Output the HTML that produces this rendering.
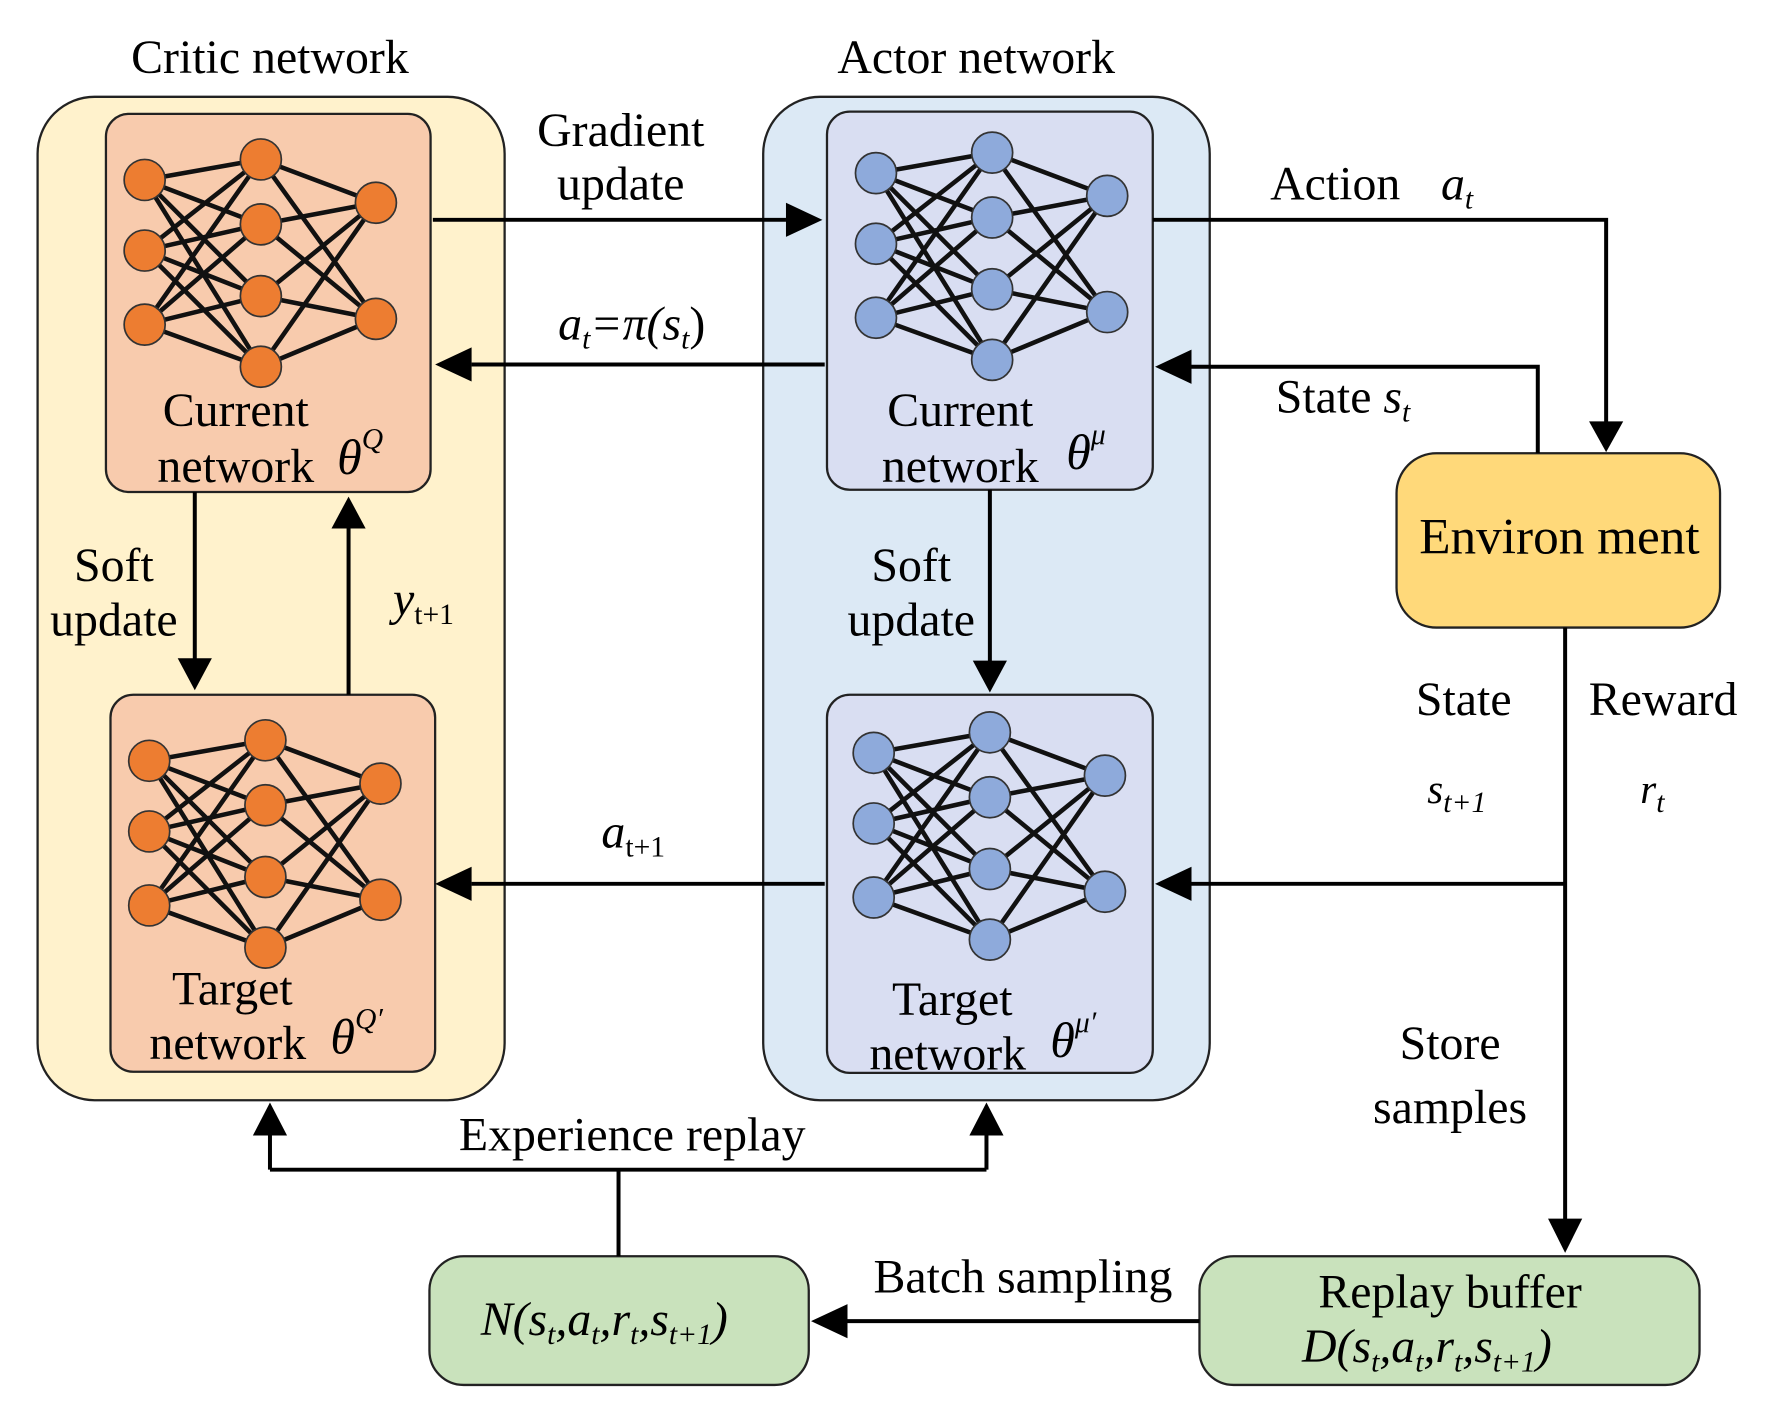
<!DOCTYPE html>
<html><head><meta charset="utf-8"><style>html,body{margin:0;padding:0;background:#fff}svg{display:block}</style></head>
<body>
<svg width="1777" height="1410" viewBox="0 0 1560 1238" preserveAspectRatio="none" xmlns="http://www.w3.org/2000/svg" font-family="Liberation Serif, serif" font-size="42" fill="#000">
<defs>
<g id="net">
<path d="M0 18L102 0M0 18L102 57M0 18L102 120M0 18L102 182M0 80L102 0M0 80L102 57M0 80L102 120M0 80L102 182M0 145L102 0M0 145L102 57M0 145L102 120M0 145L102 182M102 0L203 38M102 0L203 140M102 57L203 38M102 57L203 140M102 120L203 38M102 120L203 140M102 182L203 38M102 182L203 140" stroke="#111" stroke-width="4" fill="none"/>
<g fill="currentColor" stroke="#333" stroke-width="1.5">
<circle cx="0" cy="18" r="18"/><circle cx="0" cy="80" r="18"/><circle cx="0" cy="145" r="18"/>
<circle cx="102" cy="0" r="18"/><circle cx="102" cy="57" r="18"/><circle cx="102" cy="120" r="18"/><circle cx="102" cy="182" r="18"/>
<circle cx="203" cy="38" r="18"/><circle cx="203" cy="140" r="18"/>
</g>
</g>
</defs>

<rect x="33" y="85" width="410" height="881" rx="50" fill="#fff2cc" stroke="#222" stroke-width="2"/>
<rect x="670" y="85" width="392" height="881" rx="50" fill="#dce9f5" stroke="#222" stroke-width="2"/>
<rect x="93" y="100" width="285" height="332" rx="20" fill="#f8cbad" stroke="#222" stroke-width="2"/>
<rect x="97" y="610" width="285" height="331" rx="20" fill="#f8cbad" stroke="#222" stroke-width="2"/>
<rect x="726" y="98" width="286" height="332" rx="20" fill="#d9def2" stroke="#222" stroke-width="2"/>
<rect x="726" y="610" width="286" height="332" rx="20" fill="#d9def2" stroke="#222" stroke-width="2"/>
<rect x="1226" y="398" width="284" height="153" rx="35" fill="#ffd97a" stroke="#222" stroke-width="2"/>
<rect x="377" y="1103" width="333" height="113" rx="30" fill="#c9e2bc" stroke="#222" stroke-width="2"/>
<rect x="1053" y="1103" width="439" height="113" rx="30" fill="#c9e2bc" stroke="#222" stroke-width="2"/>

<use href="#net" x="127" y="140" color="#ed7d31"/>
<use href="#net" x="131" y="650" color="#ed7d31"/>
<use href="#net" x="769" y="134" color="#8eaadb"/>
<use href="#net" x="767" y="643" color="#8eaadb"/>

<g stroke="#000" stroke-width="3.5" fill="none">
<path d="M380 193H690"/><path d="M724 320H414"/>
<path d="M1012 193H1410V372"/>
<path d="M1350 398V322H1045"/>
<path d="M171 432V580"/><path d="M306 610V462"/>
<path d="M869 430V582"/>
<path d="M724 776H414"/>
<path d="M1374 551V1072"/><path d="M1374 776H1045"/>
<path d="M543 1103V1027M237 1027H866M237 1027V995M866 1027V995"/>
<path d="M1053 1160H744"/>
</g>
<g fill="#000">
<path d="M722 193L690 178V208z"/>
<path d="M382 320L414 305V335z"/>
<path d="M1410 397L1395 370H1425z"/>
<path d="M1014 322L1046 307V337z"/>
<path d="M171 606L156 578H186z"/>
<path d="M306 436L291 464H321z"/>
<path d="M869 608L854 580H884z"/>
<path d="M382 776L414 761V791z"/>
<path d="M1014 776L1046 761V791z"/>
<path d="M1374 1100L1359 1070H1389z"/>
<path d="M237 968L222 997H252z"/>
<path d="M866 968L851 997H881z"/>
<path d="M712 1160L744 1145V1175z"/>
</g>

<g text-anchor="middle">
<text x="237" y="64">Critic network</text>
<text x="857" y="64">Actor network</text>
<text x="545" y="128">Gradient</text>
<text x="545" y="175">update</text>
<text x="207" y="374">Current</text>
<text x="207" y="423">network</text>
<text x="204" y="882">Target</text>
<text x="200" y="930">network</text>
<text x="843" y="374">Current</text>
<text x="843" y="423">network</text>
<text x="836" y="891">Target</text>
<text x="832" y="939">network</text>
<text x="100" y="510">Soft</text>
<text x="100" y="558">update</text>
<text x="800" y="510">Soft</text>
<text x="800" y="558">update</text>
<text x="1369" y="486" font-size="45">Environ ment</text>
<text x="1285" y="628">State</text>
<text x="1460" y="628">Reward</text>
<text x="1273" y="930">Store</text>
<text x="1273" y="986">samples</text>
<text x="555" y="1010">Experience replay</text>
<text x="898" y="1135">Batch sampling</text>
<text x="1273" y="1148">Replay buffer</text>
</g>
<text x="1115" y="175">Action</text>
<text x="1265" y="175" font-style="italic">a<tspan font-size="26" dy="8">t</tspan></text>
<text x="1120" y="362">State <tspan font-style="italic">s<tspan font-size="26" dy="8">t</tspan></tspan></text>
<text x="490" y="298" font-style="italic">a<tspan font-size="26" dy="8">t</tspan><tspan dy="-8">=π(s</tspan><tspan font-size="26" dy="8">t</tspan><tspan dy="-8" font-style="normal">)</tspan></text>
<text x="345" y="540" font-style="italic">y<tspan font-size="26" dy="8" font-style="normal">t+1</tspan></text>
<text x="528" y="744" font-style="italic">a<tspan font-size="26" dy="8" font-style="normal">t+1</tspan></text>
<text x="1253" y="705" font-style="italic" font-size="36">s<tspan font-size="26" dy="8">t+1</tspan></text>
<text x="1440" y="705" font-style="italic" font-size="36">r<tspan font-size="26" dy="8">t</tspan></text>
<text x="296" y="416" font-style="italic" font-size="44">θ<tspan font-size="26" dy="-22">Q</tspan></text>
<text x="290" y="925" font-style="italic" font-size="44">θ<tspan font-size="26" dy="-22">Q′</tspan></text>
<text x="936" y="412" font-style="italic" font-size="44">θ<tspan font-size="26" dy="-22">μ</tspan></text>
<text x="922" y="928" font-style="italic" font-size="44">θ<tspan font-size="26" dy="-22">μ′</tspan></text>
<text x="422" y="1172" font-style="italic">N(s<tspan font-size="26" dy="8">t</tspan><tspan dy="-8">,a</tspan><tspan font-size="26" dy="8">t</tspan><tspan dy="-8">,r</tspan><tspan font-size="26" dy="8">t</tspan><tspan dy="-8">,s</tspan><tspan font-size="26" dy="8">t+1</tspan><tspan dy="-8">)</tspan></text>
<text x="1143" y="1196" font-style="italic">D(s<tspan font-size="26" dy="8">t</tspan><tspan dy="-8">,a</tspan><tspan font-size="26" dy="8">t</tspan><tspan dy="-8">,r</tspan><tspan font-size="26" dy="8">t</tspan><tspan dy="-8">,s</tspan><tspan font-size="26" dy="8">t+1</tspan><tspan dy="-8">)</tspan></text>
</svg>
</body></html>
